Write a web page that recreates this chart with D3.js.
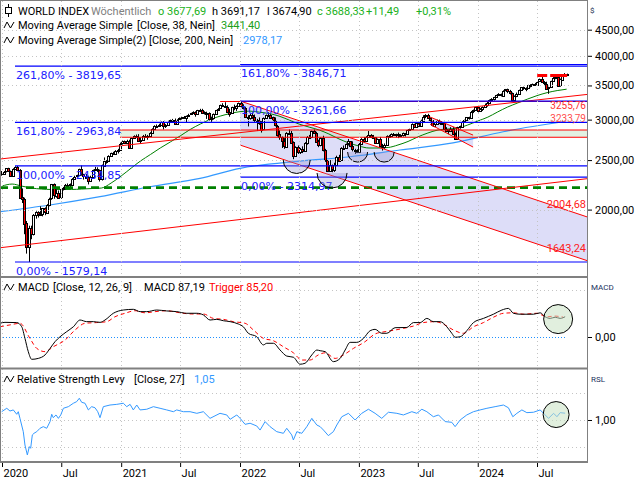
<!DOCTYPE html>
<html><head><meta charset="utf-8">
<script src="https://cdn.jsdelivr.net/npm/d3@7/dist/d3.min.js"></script>
<style>
body{margin:0;background:#fff}
svg{display:block}
text{font-family:Roboto,"DejaVu Sans",sans-serif;font-size:11px}
.fib{font-family:"DejaVu Sans",sans-serif;font-size:11px;fill:#2020ff}
</style></head><body>
<svg id="chart" width="640" height="480"></svg>
<script>
// ---------------- DATA ----------------
const weekStart = "2019-12-30";      // first weekly bar (Monday)
const firstOpen = 2358;
const closes = [
2352,2373,2410,2380,2330,2405,2425,2395,2115,2100,1880,1690,1840,1790,1950,1975,1960,1960,2010,1970,
2040,2100,2240,2130,2160,2110,2190,2200,2230,2225,2240,2300,2320,2335,2400,2345,2320,2320,2280,2320,
2390,2400,2390,2290,2440,2490,2490,2550,2580,2580,2610,2620,2690,
2720,2700,2730,2640,2760,2790,2780,2730,2740,2790,2780,2790,2830,2880,2920,2920,2930,2970,2920,2930,
2970,2990,3000,2950,3000,3020,3030,3020,3050,3070,3090,3110,3080,3130,3140,3100,3080,3090,3010,3020,
3080,3130,3150,3200,3190,3180,3110,3080,3170,3160,3190,3230,
3180,3160,3040,3020,3060,3030,2990,3000,2960,2870,3020,3060,3070,3030,2990,2920,2810,2770,2720,2660,
2830,2830,2710,2550,2650,2590,2630,2610,2700,2780,2780,2850,2830,2720,2670,2760,2620,2500,2380,2440,
2400,2450,2540,2500,2640,2640,2690,2720,2660,2620,2610,2600,
2690,2750,2730,2780,2800,2770,2770,2700,2750,2660,2650,2680,2790,2790,2810,2800,2810,2800,2790,2820,
2810,2860,2870,2940,2900,2950,2910,2990,3040,3060,3020,2990,2920,2940,2990,2950,2960,2880,2860,2850,
2880,2810,2750,2900,2910,2970,2990,3030,3030,3110,3130,3170,
3120,3150,3180,3210,3240,3280,3290,3320,3350,3360,3350,3420,3440,3410,3380,3280,3340,3370,3430,3470,
3450,3460,3500,3510,3520,3510,3560,3600,3550,3530,3450,3470,3570,3620,3640,3500,3600,3660,3677.69,3688.33];
const highs = [
2380,2380,2412,2415,2385,2410,2432,2435,2400,2200,2110,1900,1860,1860,1960,1985,1985,2030,2015,2020,
2050,2110,2245,2250,2190,2180,2195,2215,2245,2250,2250,2305,2330,2340,2405,2440,2350,2350,2330,2330,
2395,2425,2420,2395,2450,2530,2500,2555,2585,2595,2615,2630,2705,
2730,2730,2740,2740,2765,2795,2805,2810,2770,2800,2810,2800,2835,2885,2925,2935,2945,2975,2980,2940,
2975,3000,3010,3015,3005,3030,3040,3050,3055,3080,3095,3115,3115,3135,3150,3150,3115,3110,3100,3040,
3085,3135,3160,3210,3230,3245,3200,3150,3180,3210,3200,3240,
3262,3215,3175,3060,3085,3100,3070,3010,3030,2980,3030,3070,3100,3075,3040,3030,2930,2860,2780,2760,
2835,2870,2850,2720,2660,2670,2640,2660,2710,2785,2800,2855,2870,2840,2740,2770,2790,2630,2500,2500,
2450,2470,2550,2560,2650,2670,2695,2750,2720,2720,2630,2625,
2700,2760,2775,2785,2850,2810,2800,2765,2755,2775,2690,2695,2795,2800,2820,2825,2815,2830,2810,2830,
2825,2865,2880,2950,2945,2955,2960,3000,3060,3075,3080,3030,2995,2960,3000,3000,2980,2970,2900,2870,
2900,2900,2830,2905,2920,2980,3000,3035,3040,3120,3140,3175,
3170,3160,3185,3225,3250,3285,3305,3325,3355,3380,3375,3425,3445,3450,3430,3390,3345,3390,3435,3475,
3480,3470,3510,3520,3530,3540,3565,3610,3660,3570,3560,3480,3575,3635,3650,3645,3610,3680,3700,3691.17];
const lows = [
2330,2340,2365,2370,2325,2325,2400,2385,2100,2060,1790,1640,1579,1750,1780,1920,1930,1950,1940,1950,
1965,2030,2090,2100,2110,2105,2100,2180,2190,2215,2200,2230,2290,2310,2330,2330,2290,2310,2240,2270,
2310,2385,2370,2270,2280,2430,2460,2480,2535,2565,2575,2575,2610,
2680,2690,2700,2630,2645,2755,2765,2720,2690,2730,2770,2740,2785,2830,2880,2895,2910,2925,2870,2890,
2930,2960,2985,2940,2950,2995,3000,3010,2960,3040,3065,3085,3040,3075,3125,3095,3070,3010,2990,2970,
3000,3080,3125,3150,3180,3170,3100,3040,3080,3130,3120,3190,
3170,3140,3030,2910,3000,3010,2970,2850,2930,2830,2870,3010,3040,3010,2980,2910,2780,2740,2640,2630,
2660,2810,2700,2510,2550,2570,2570,2580,2600,2680,2750,2760,2820,2710,2650,2660,2600,2480,2370,2380,
2367,2370,2450,2480,2490,2620,2630,2670,2650,2600,2570,2580,
2570,2680,2720,2720,2770,2760,2750,2690,2690,2650,2610,2630,2680,2765,2780,2790,2770,2760,2780,2780,
2780,2800,2850,2870,2895,2890,2900,2910,2990,3020,3010,2975,2910,2900,2935,2940,2940,2870,2840,2810,
2840,2800,2740,2740,2880,2900,2965,2980,3000,3020,3090,3130,
3100,3110,3120,3175,3180,3230,3250,3270,3310,3340,3330,3345,3410,3380,3360,3270,3280,3320,3370,3430,
3430,3410,3450,3470,3500,3500,3500,3560,3540,3490,3430,3370,3460,3570,3600,3490,3480,3590,3650,3674.90];

// Moving average 38
const ma38Dates = ["2020-01-01","2020-02-01","2020-03-01","2020-04-01","2020-05-01","2020-06-01","2020-07-01","2020-08-01","2020-09-01","2020-10-01","2020-11-01","2020-12-01",
"2021-01-01","2021-02-01","2021-03-01","2021-04-01","2021-05-01","2021-06-01","2021-07-01","2021-08-01","2021-09-01","2021-10-01","2021-11-01","2021-12-01",
"2022-01-01","2022-02-01","2022-03-01","2022-04-01","2022-05-01","2022-06-01","2022-07-01","2022-08-01","2022-09-01","2022-10-01","2022-11-01","2022-12-01",
"2023-01-01","2023-02-01","2023-03-01","2023-04-01","2023-05-01","2023-06-01","2023-07-01","2023-08-01","2023-09-01","2023-10-01","2023-11-01","2023-12-01",
"2024-01-01","2024-02-01","2024-03-01","2024-04-01","2024-05-01","2024-06-01","2024-07-01","2024-08-01","2024-09-01","2024-09-30"];
const ma38Vals = [2224,2244,2224,2204,2194,2190,2190,2190,2194,2199,2204,2254,
2327,2412,2489,2564,2640,2713,2787,2870,2941,3001,3048,3083,
3110,3117,3103,3083,3048,2994,2941,2901,2863,2812,2750,2701,
2664,2640,2640,2646,2676,2719,2775,2825,2863,2876,2888,2928,
2981,3034,3103,3174,3231,3290,3343,3388,3420,3441.40];
// Moving average 200
const ma200Dates = ["2019-12-26","2020-05-27","2020-10-28","2021-03-30","2021-08-31","2022-01-01","2022-07-04","2022-12-05","2023-05-07","2023-10-17","2024-03-19","2024-09-28"];
const ma200Vals = [1981,2042,2120,2217,2303,2409,2489,2538,2616,2701,2841,2978.17];

// MACD / Trigger  [decimal year, value]
const macdPts = [[2019.983,59],[2020.025,63],[2020.124,62],[2020.166,44],[2020.193,-6],[2020.221,-63],[2020.250,-96],[2020.305,-92],[2020.362,-77],[2020.404,-49],
[2020.446,-20],[2020.488,1],[2020.544,23],[2020.600,44],[2020.656,73],[2020.712,66],[2020.768,66],[2020.824,63],[2020.866,73],[2020.936,102],
[2021.020,116],[2021.104,119],[2021.161,109],[2021.217,109],[2021.301,116],[2021.385,112],[2021.469,109],[2021.553,102],[2021.638,102],[2021.693,95],
[2021.749,73],[2021.806,76],[2021.861,70],[2021.918,66],[2021.987,56],[2022.029,44],[2022.071,16],[2022.142,1],[2022.198,-34],[2022.226,-27],
[2022.282,-27],[2022.338,-56],[2022.394,-82],[2022.450,-87],[2022.506,-117],[2022.548,-113],[2022.605,-77],[2022.647,-56],[2022.675,-59],[2022.717,-63],
[2022.786,-106],[2022.843,-92],[2022.885,-56],[2022.927,-23],[2022.983,-23],[2023.039,-6],[2023.095,27],[2023.137,33],[2023.193,16],[2023.236,16],
[2023.305,40],[2023.404,41],[2023.459,62],[2023.516,62],[2023.572,80],[2023.627,66],[2023.684,66],[2023.740,44],[2023.782,16],[2023.810,-1],
[2023.852,1],[2023.908,27],[2023.964,62],[2024.048,80],[2024.132,98],[2024.203,116],[2024.258,123],[2024.300,102],[2024.357,98],[2024.469,98],
[2024.525,104],[2024.567,87],[2024.609,80],[2024.651,85],[2024.693,80],[2024.735,87.19]];
const trigPts = [[2019.983,44],[2020.067,52],[2020.151,59],[2020.235,-6],[2020.292,-49],[2020.362,-63],[2020.431,-42],[2020.530,-13],[2020.614,30],[2020.698,59],
[2020.796,62],[2020.881,66],[2020.950,87],[2021.034,102],[2021.119,113],[2021.203,104],[2021.287,109],[2021.385,113],[2021.497,104],[2021.595,99],
[2021.693,99],[2021.777,80],[2021.861,76],[2021.945,66],[2022.044,59],[2022.114,30],[2022.198,-6],[2022.282,-16],[2022.366,-42],[2022.450,-68],
[2022.521,-99],[2022.590,-99],[2022.660,-77],[2022.717,-68],[2022.801,-92],[2022.871,-77],[2022.955,-49],[2023.053,-20],[2023.137,13],[2023.221,23],
[2023.305,30],[2023.375,37],[2023.459,47],[2023.543,62],[2023.642,66],[2023.712,55],[2023.796,30],[2023.880,16],[2023.964,44],[2024.048,62],
[2024.132,85],[2024.216,102],[2024.300,104],[2024.385,98],[2024.497,102],[2024.581,87],[2024.651,90],[2024.719,85.2]];
// Relative Strength Levy [decimal year, value]
const rslPts = [[2019.997,1.061],[2020.040,1.086],[2020.067,1.066],[2020.095,1.074],[2020.124,1.042],[2020.137,1.061],[2020.151,1.012],[2020.179,0.914],[2020.193,0.816],[2020.213,0.743],
[2020.230,0.804],[2020.241,0.792],[2020.255,0.890],[2020.269,0.902],[2020.292,0.914],[2020.320,0.939],[2020.347,0.951],[2020.376,0.939],[2020.404,0.988],[2020.418,1.042],
[2020.431,1.017],[2020.454,1.037],[2020.474,1.012],[2020.494,1.037],[2020.516,1.086],[2020.558,1.098],[2020.600,1.123],[2020.628,1.135],[2020.650,1.160],[2020.670,1.130],
[2020.698,1.123],[2020.726,1.074],[2020.754,1.098],[2020.782,1.090],[2020.805,1.061],[2020.824,1.017],[2020.852,1.098],[2020.908,1.110],[2020.965,1.115],[2021.020,1.123],
[2021.049,1.098],[2021.077,1.115],[2021.104,1.074],[2021.133,1.110],[2021.161,1.074],[2021.217,1.079],[2021.273,1.098],[2021.329,1.086],[2021.385,1.074],[2021.441,1.061],
[2021.469,1.074],[2021.525,1.061],[2021.581,1.061],[2021.638,1.049],[2021.693,1.061],[2021.749,1.012],[2021.833,1.049],[2021.890,1.037],[2021.918,1.005],[2021.974,1.037],
[2022.002,1.012],[2022.044,0.968],[2022.086,0.976],[2022.142,0.956],[2022.170,0.926],[2022.212,0.988],[2022.254,0.951],[2022.310,0.914],[2022.366,0.902],[2022.394,0.939],
[2022.436,0.890],[2022.450,0.853],[2022.479,0.914],[2022.521,0.902],[2022.563,0.951],[2022.605,1.012],[2022.647,0.963],[2022.675,0.951],[2022.703,0.926],[2022.744,0.885],
[2022.786,0.914],[2022.815,0.963],[2022.857,1.024],[2022.913,1.049],[2022.969,1.000],[2023.025,1.049],[2023.081,1.079],[2023.137,1.049],[2023.193,1.012],[2023.249,1.057],
[2023.320,1.049],[2023.375,1.037],[2023.446,1.061],[2023.488,1.049],[2023.530,1.079],[2023.572,1.061],[2023.627,1.024],[2023.670,1.037],[2023.726,0.988],[2023.782,0.983],
[2023.810,0.951],[2023.852,1.000],[2023.908,1.037],[2023.964,1.061],[2024.020,1.074],[2024.077,1.086],[2024.146,1.098],[2024.216,1.110],[2024.258,1.090],[2024.295,1.024],
[2024.329,1.049],[2024.371,1.074],[2024.413,1.054],[2024.469,1.057],[2024.525,1.074],[2024.567,1.037],[2024.595,1.012],[2024.638,1.049],[2024.666,1.024],[2024.693,1.054],[2024.735,1.05]];

// Axis ticks
const priceTicks = [2000,2500,3000,3500,4000,4500];
const xTickDates = ["2020-01-01","2020-07-01","2021-01-01","2021-07-01","2022-01-01","2022-07-01","2023-01-01","2023-07-01","2024-01-01","2024-07-01"];
const xTickLabels = ["2020","Jul","2021","Jul","2022","Jul","2023","Jul","2024","Jul"];

// Fibonacci drawings
const fib1Start = 2020.109;
const fib1Levels = [1579.14, 2434.85, 2963.84, 3819.65];
const fib1Pct = ["0,00%","100,00%","161,80%","261,80%"];
const fib2Start = 2022.002;
const fib2Levels = [2314.97, 3261.66, 3846.71];
const fib2Pct = ["0,00%","100,00%","161,80%"];

// Trend-line drawings [decimal year, price]
const riseUpper = [[2019.983,2512],[2024.920,3361]];
const riseLower = [[2019.983,1684],[2024.920,2299]];
const descUpper = [[2022.002,3263],[2024.920,1935]];
const descLower = [[2022.002,2675],[2024.920,1589]];
const smallUpper = [[2023.600,3035],[2023.961,2798]];
const smallLower = [[2023.600,2937],[2023.961,2651]];
const bandLevels = [2771, 2863]; const bandStart = 2020.992;
const resistLevel = 3255.76; const resistStart = 2021.834;
const topLevel = 3660; const topSegs = [[2024.500,2024.584],[2024.609,2024.752]];
const supportDashed = 2208;
const bottoms = [[2022.478,2501,13.5],[2022.775,2359,15],[2022.990,2592,10],[2023.213,2592,10]];
const macdCircle = [2024.676, 77]; const rslCircle = [2024.659, 1.04];

// ---------------- CHART ----------------
const svg = d3.select("#chart");
const parse = d3.utcParse("%Y-%m-%d");
const T0 = Date.UTC(2020,0,1);
const fromT = t => new Date(T0 + (t-2020)*365.25*864e5);
const L=0, R=587, mainTop=1, mainBot=277, macdTop=278, macdBot=368, rslTop=369, rslBot=462;

const x = d3.scaleUtc().domain([parse("2020-01-01"), parse("2024-07-01")]).range([2,537]);
const y = d3.scaleLog().domain([1476,5121]).range([mainBot, mainTop]);
const yM = d3.scaleLinear().domain([-133.3,253.7]).range([macdBot, macdTop]);
const yR = d3.scaleLinear().domain([0.691,1.375]).range([rslBot, rslTop]);
const loc = d3.formatLocale({decimal:",", thousands:".", grouping:[3], currency:["",""]});
const f2 = loc.format(".2f");
const xt = t => x(fromT(t));

svg.append("rect").attr("width",640).attr("height",480).attr("fill","#fff");
const defs = svg.append("defs");
function clip(id,y0,y1){defs.append("clipPath").attr("id",id).append("rect").attr("x",L).attr("y",y0).attr("width",R-L).attr("height",y1-y0);}
clip("cMain",mainTop,mainBot); clip("cMacd",macdTop,macdBot); clip("cRsl",rslTop,rslBot);

const gMain = svg.append("g").attr("clip-path","url(#cMain)");
const ptLine = d3.line().x(p=>xt(p[0])).y(p=>y(p[1]));

// fills
gMain.append("path").attr("d", ptLine([descUpper[0],descUpper[1],descLower[1],descLower[0]])+"Z")
  .attr("fill","rgba(175,175,238,0.42)");
gMain.append("path").attr("d", ptLine([smallUpper[0],smallUpper[1],smallLower[1],smallLower[0]])+"Z")
  .attr("fill","rgba(175,175,238,0.42)");
gMain.append("rect").attr("x",xt(bandStart)).attr("width",R-xt(bandStart))
  .attr("y",y(bandLevels[1])).attr("height",y(bandLevels[0])-y(bandLevels[1]))
  .attr("fill","rgba(190,225,190,0.45)");

// grid
const grid = svg.append("g").attr("stroke","#c4c4c4").attr("stroke-dasharray","1,3").attr("stroke-width",1);
xTickDates.forEach(d=>{const xx=Math.round(x(parse(d)))+0.5;
  grid.append("line").attr("x1",xx).attr("x2",xx).attr("y1",mainTop).attr("y2",rslBot);});
priceTicks.forEach(v=>{const yy=Math.round(y(v))+0.5;
  grid.append("line").attr("x1",L).attr("x2",R).attr("y1",yy).attr("y2",yy);});
[200].forEach(v=>{const yy=Math.round(yM(v))+0.5;grid.append("line").attr("x1",L).attr("x2",R).attr("y1",yy).attr("y2",yy);});
[0.8,1.0,1.2].forEach(v=>{const yy=Math.round(yR(v))+0.5;grid.append("line").attr("x1",L).attr("x2",R).attr("y1",yy).attr("y2",yy);});

// moving averages
const ma200 = ma200Dates.map((d,i)=>({d:parse(d),v:ma200Vals[i]}));
const ma38 = ma38Dates.map((d,i)=>({d:parse(d),v:ma38Vals[i]}));
const maLine = d3.line().x(p=>x(p.d)).y(p=>y(p.v)).curve(d3.curveMonotoneX);
gMain.append("path").attr("d",maLine(ma200)).attr("fill","none").attr("stroke","#3399ff").attr("stroke-width",1.2);
gMain.append("path").attr("d",maLine(ma38)).attr("fill","none").attr("stroke","#008000").attr("stroke-width",1);

// candles
const bars = closes.map((c,i)=>{const o=i?closes[i-1]:firstOpen;
  return {d:d3.utcDay.offset(parse(weekStart),7*i),o,c,h:Math.max(highs[i],o,c),l:Math.min(lows[i],o,c)};});
const gC = gMain.append("g");
bars.forEach(b=>{
  const cx = Math.round(x(b.d));
  gC.append("line").attr("x1",cx+0.5).attr("x2",cx+0.5).attr("y1",y(b.h)).attr("y2",y(b.l)).attr("stroke","#000");
  const yt = y(Math.max(b.o,b.c)), yb = y(Math.min(b.o,b.c));
  gC.append("rect").attr("x",cx-0.5).attr("width",2).attr("y",Math.round(yt)+0.5)
    .attr("height",Math.max(1,Math.round(yb-yt)))
    .attr("fill", b.c>=b.o ? "#fff" : "#ff0000").attr("stroke","#000").attr("stroke-width",1);
});

// dashed support
gMain.append("line").attr("x1",L).attr("x2",R).attr("y1",y(supportDashed)).attr("y2",y(supportDashed))
  .attr("stroke","#008000").attr("stroke-width",2.6).attr("stroke-dasharray","8,5");

// red drawings
const red = gMain.append("g").attr("stroke","#ff0000").attr("fill","none").attr("stroke-width",1);
[riseUpper,riseLower,descUpper,descLower,smallUpper,smallLower].forEach(s=>red.append("path").attr("d",ptLine(s)));
bandLevels.forEach(v=>red.append("line").attr("x1",xt(bandStart)).attr("x2",R).attr("y1",y(v)).attr("y2",y(v)));
red.append("line").attr("x1",xt(resistStart)).attr("x2",R).attr("y1",y(resistLevel)).attr("y2",y(resistLevel));
topSegs.forEach(s=>red.append("line").attr("x1",xt(s[0])).attr("x2",xt(s[1])).attr("y1",y(topLevel)).attr("y2",y(topLevel)).attr("stroke-width",3));

// fibonacci
const blue = gMain.append("g");
function fib(start, levels, pcts){
  levels.forEach((v,i)=>{
    blue.append("line").attr("x1",xt(start)).attr("x2",R).attr("y1",y(v)).attr("y2",y(v)).attr("stroke","#0000ff").attr("stroke-width",1.2);
    blue.append("text").attr("class","fib").attr("x",xt(start)+1).attr("y",y(v)+13).text(pcts[i]+" - "+f2(v));
  });
}
fib(fib1Start,fib1Levels,fib1Pct); fib(fib2Start,fib2Levels,fib2Pct);

// bottom semicircles
bottoms.forEach(([t,p,r])=>{const cx=xt(t), cy=y(p);
  gMain.append("path").attr("d",`M${cx-r},${cy}A${r},${r} 0 0 0 ${cx+r},${cy}`)
    .attr("fill","rgba(150,150,210,0.35)").attr("stroke","#000").attr("stroke-width",1);});

// red value labels
const lineYAt = (s,px)=>{const x0=xt(s[0][0]),x1=xt(s[1][0]),y0=y(s[0][1]),y1=y(s[1][1]);return y0+(y1-y0)*(px-x0)/(x1-x0);};
gMain.append("text").attr("x",R-1).attr("y",lineYAt(descUpper,566)-2).attr("text-anchor","end").attr("fill","#ff2020").text("2004,68");
gMain.append("text").attr("x",R-1).attr("y",lineYAt(descLower,566)-2).attr("text-anchor","end").attr("fill","#ff2020").text("1643,24");
gMain.append("text").attr("x",R-1).attr("y",y(resistLevel)+8).attr("text-anchor","end").attr("fill","#ff3030").style("font-size","10px").text("3255,76");
gMain.append("text").attr("x",R-1).attr("y",y(resistLevel)+21).attr("text-anchor","end").attr("fill","#ff5050").style("font-size","10px").text("3233,79");

// ---- MACD panel ----
const gM = svg.append("g").attr("clip-path","url(#cMacd)");
gM.append("line").attr("x1",L).attr("x2",xt(2024.735)).attr("y1",Math.round(yM(0))+0.5).attr("y2",Math.round(yM(0))+0.5)
  .attr("stroke","#1e90ff").attr("stroke-dasharray","1,2");
const mLine = d3.line().x(p=>xt(p[0])).y(p=>yM(p[1])).curve(d3.curveMonotoneX);
gM.append("path").attr("d",mLine(trigPts)).attr("fill","none").attr("stroke","#ff0000").attr("stroke-dasharray","4,3");
gM.append("path").attr("d",mLine(macdPts)).attr("fill","none").attr("stroke","#000");
gM.append("circle").attr("cx",xt(macdCircle[0])).attr("cy",yM(macdCircle[1])).attr("r",14.5)
  .attr("fill","rgba(200,225,195,0.55)").attr("stroke","#000");

// ---- RSL panel ----
const gR = svg.append("g").attr("clip-path","url(#cRsl)");
gR.append("path").attr("d",d3.line().x(p=>xt(p[0])).y(p=>yR(p[1]))(rslPts)).attr("fill","none").attr("stroke","#3399ff").attr("stroke-width",1);
gR.append("circle").attr("cx",xt(rslCircle[0])).attr("cy",yR(rslCircle[1])).attr("r",13)
  .attr("fill","rgba(200,225,195,0.55)").attr("stroke","#000");

// ---- borders ----
const bd = svg.append("g").attr("stroke","#808080");
bd.append("line").attr("x1",0).attr("x2",R+1).attr("y1",0.5).attr("y2",0.5);
bd.append("line").attr("x1",0.5).attr("x2",0.5).attr("y1",0).attr("y2",rslBot);
bd.append("line").attr("x1",R+0.5).attr("x2",R+0.5).attr("y1",0).attr("y2",rslBot+1);
[[mainBot,2],[macdBot+0.5,2],[rslBot,2]].forEach(([yy,w])=>bd.append("line").attr("x1",0).attr("x2",R+1).attr("y1",yy).attr("y2",yy).attr("stroke-width",w));

// ---- axes ----
function rightAxis(scale, vals){
  const g = svg.append("g").attr("transform",`translate(${R+1},0)`)
    .call(d3.axisRight(scale).tickValues(vals).tickFormat(f2).tickSize(4).tickPadding(3));
  g.select(".domain").remove(); g.selectAll("text").attr("fill","#000");
}
rightAxis(y, priceTicks); rightAxis(yM,[0]); rightAxis(yR,[1]);
const gx = svg.append("g").attr("transform",`translate(0,${rslBot+1})`)
  .call(d3.axisBottom(x).tickValues(xTickDates.map(parse)).tickFormat((d,i)=>xTickLabels[i]).tickSize(4));
gx.select(".domain").remove();
gx.selectAll(".tick text").attr("text-anchor","start").attr("x",1).attr("y",14).attr("dy",null).attr("fill","#000");

svg.append("text").attr("x",590).attr("y",13).style("font-size","8px").attr("fill","#203050").text("$");
svg.append("text").attr("x",591).attr("y",290).style("font-size","8px").attr("fill","#203060").text("MACD");
svg.append("text").attr("x",591).attr("y",382).style("font-size","8px").attr("fill","#203060").text("RSL");

// ---- legends ----
function wave(b){svg.append("path").attr("d",`M4,${b-1}L7,${b-7}L10.5,${b-1}L14,${b-7}`).attr("fill","none").attr("stroke","#000");}
function txt(xx,yy,s,c){svg.append("text").attr("x",xx).attr("y",yy).attr("fill",c||"#000").text(s);}
svg.append("line").attr("x1",8.5).attr("x2",8.5).attr("y1",4).attr("y2",17).attr("stroke","#000");
svg.append("rect").attr("x",5.5).attr("y",7.5).attr("width",6).attr("height",6).attr("fill","#fff").attr("stroke","#000");
txt(18,15,"WORLD INDEX"); txt(91,15,"Wöchentlich","#808080");
txt(158,15,"o 3677,69","#20b020"); txt(212,15,"h 3691,17"); txt(267,15,"l 3674,90");
txt(317,15,"c 3688,33","#20b020"); txt(366,15,"+11,49","#20b020"); txt(416,15,"+0,31%","#20b020");
wave(29); txt(18,29,"Moving Average Simple"); txt(137,29,"[Close, 38, Nein]"); txt(221,29,"3441,40","#20a020");
wave(44); txt(18,44,"Moving Average Simple(2)"); txt(149,44,"[Close, 200, Nein]"); txt(243,44,"2978,17","#3399ff");
wave(291); txt(18,291,"MACD"); txt(53,291,"[Close, 12, 26, 9]"); txt(144,291,"MACD 87,19"); txt(209,291,"Trigger 85,20","#ff0000");
wave(383); txt(17,383,"Relative Strength Levy"); txt(134,383,"[Close, 27]"); txt(194,383,"1,05","#3399ff");
</script></body></html>
